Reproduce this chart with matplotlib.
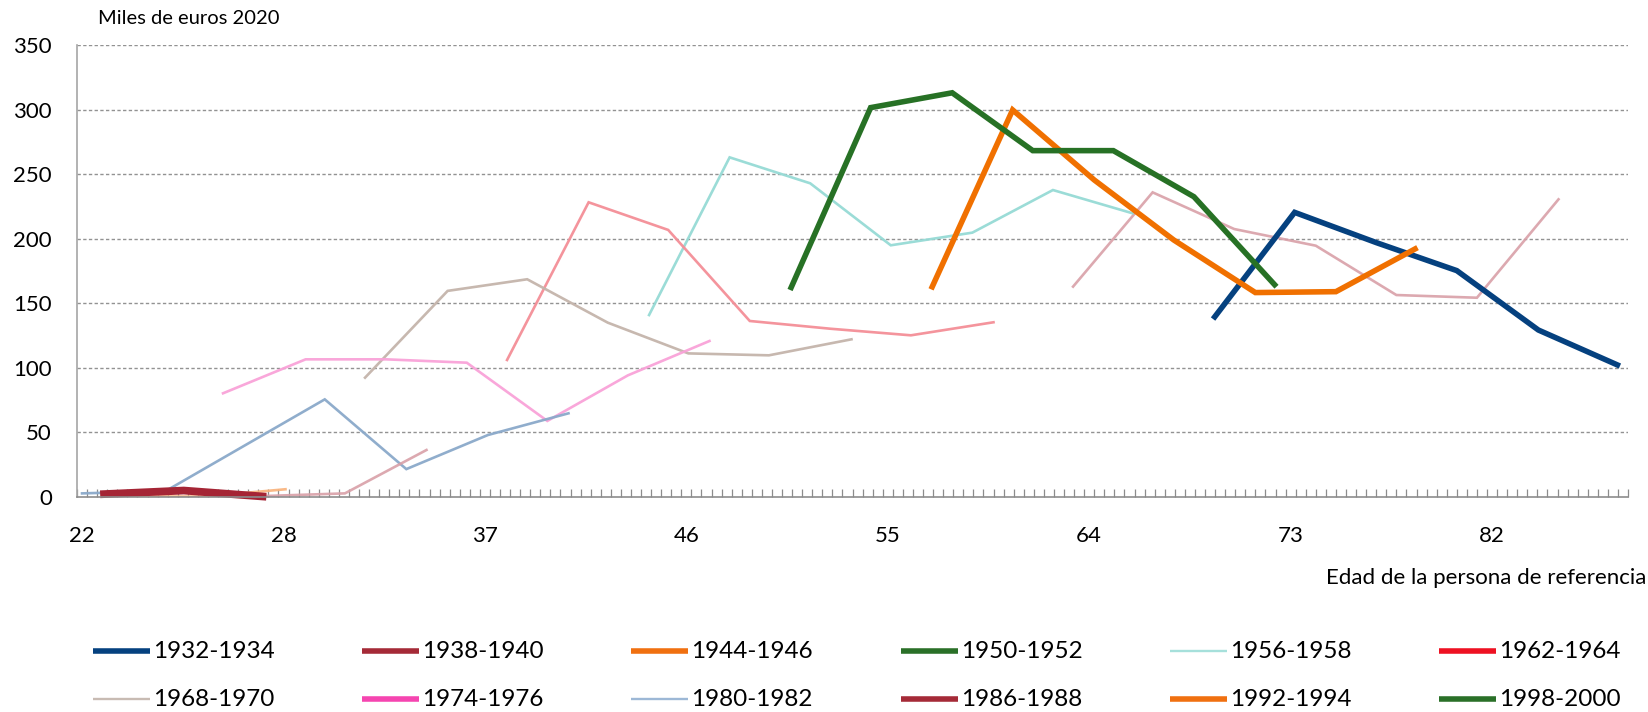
import matplotlib
matplotlib.use('Agg')
import matplotlib.pyplot as plt
from matplotlib.lines import Line2D
from matplotlib.ticker import FixedLocator, MultipleLocator

plt.rcParams['font.family'] = ['Lato', 'DejaVu Sans']

# ---------------- data ----------------
n_categories = 154                      # category slots on the x axis
age_labels = ['22', '28', '37', '46', '55', '64', '73', '82']
age_label_cat = [0.5, 20.5, 40.5, 60.5, 80.5, 100.5, 120.5, 140.5]
y_ticks = [0, 50, 100, 150, 200, 250, 300, 350]

# cohort lines (x = category position, y = miles de euros 2020)
x_1932 = [112.8, 120.9, 129.0, 137.0, 145.1, 153.2]
y_1932 = [137.8, 220.4, 197.0, 175.3, 129.3, 101.4]

x_1938 = [98.9, 106.8, 114.9, 123.0, 131.0, 139.0, 147.1]
y_1938 = [162.9, 235.9, 207.5, 194.6, 156.4, 154.3, 230.5]

x_1944 = [84.8, 92.9, 101.0, 108.9, 117.0, 125.0, 133.1]
y_1944 = [160.8, 299.7, 245.5, 199.0, 158.3, 159.0, 193.1]

x_1950 = [70.8, 78.8, 86.9, 94.9, 102.9, 110.9, 119.1]
y_1950 = [160.3, 301.5, 313.0, 268.2, 268.2, 232.5, 162.8]

x_1956 = [56.8, 64.8, 72.8, 80.8, 88.9, 96.9, 104.8]
y_1956 = [140.9, 263.0, 242.9, 194.9, 204.7, 237.7, 219.7]

x_1962 = [42.7, 50.8, 58.7, 66.8, 74.8, 82.8, 91.0]
y_1962 = [106.1, 228.2, 206.8, 136.3, 130.3, 125.2, 135.3]

x_1968 = [28.6, 36.8, 44.7, 52.7, 60.7, 68.7, 76.9]
y_1968 = [92.4, 159.6, 168.6, 135.0, 111.2, 109.7, 122.1]

x_1974 = [14.5, 22.7, 30.7, 38.7, 46.7, 54.7, 62.8]
y_1974 = [80.3, 106.6, 106.6, 104.0, 58.9, 94.2, 120.8]

x_1980 = [0.5, 8.8, 24.6, 32.7, 40.8, 48.8]
y_1980 = [2.8, 4.6, 75.6, 21.6, 48.0, 64.8]

x_1986 = [18.8, 26.6, 34.7]
y_1986 = [0.8, 2.8, 36.4]

x_1986b = [2.3, 10.6, 18.8]
y_1986b = [2.1, 5.0, 0.2]

x_1992 = [4.6, 12.6, 20.7]
y_1992 = [0.5, 0.3, 6.0]

legend_labels = ['1932-1934', '1938-1940', '1944-1946', '1950-1952', '1956-1958', '1962-1964',
                 '1968-1970', '1974-1976', '1980-1982', '1986-1988', '1992-1994', '1998-2000']
legend_colors = ['#05417F', '#A52A37', '#F07010', '#2A7028', '#A6E0DB', '#EE1122',
                 '#C8BBB3', '#F545B0', '#9DB8D6', '#A52A37', '#F07010', '#2A7028']
legend_thick = [True, True, True, True, False, True,
                False, True, False, True, True, True]

# ---------------- figure ----------------
W, H = 1649, 712
fig = plt.figure(figsize=(W / 100, H / 100), dpi=100)

def fx(px):
    return px / W

def fy(py):
    return 1 - py / H

ax = fig.add_axes([fx(77), fy(497), fx(1628) - fx(77), fy(45) - fy(497)])

THIN = 1.9
THICK = 4.0

# thin (lighter) lines first
ax.plot(x_1938, y_1938, color='#D9A0A8', lw=THIN, alpha=0.9, solid_joinstyle='miter')
ax.plot(x_1956, y_1956, color='#96DAD5', lw=THIN, alpha=0.95, solid_joinstyle='miter')
ax.plot(x_1962, y_1962, color='#F48E97', lw=THIN, alpha=0.95, solid_joinstyle='miter')
ax.plot(x_1968, y_1968, color='#C4B4AB', lw=THIN, alpha=0.95, solid_joinstyle='miter')
ax.plot(x_1974, y_1974, color='#F9A2D8', lw=THIN, alpha=0.95, solid_joinstyle='miter')
ax.plot(x_1980, y_1980, color='#8AA9CA', lw=THIN, alpha=0.95, solid_joinstyle='miter')
ax.plot(x_1986, y_1986, color='#D9A0A8', lw=THIN, alpha=0.9, solid_joinstyle='miter')
ax.plot(x_1992, y_1992, color='#F9B27A', lw=THIN, alpha=0.9, solid_joinstyle='miter')

# thick lines
ax.plot(x_1932, y_1932, color='#05417F', lw=THICK, solid_joinstyle='miter', solid_capstyle='butt')
ax.plot(x_1944, y_1944, color='#F07000', lw=THICK, solid_joinstyle='miter', solid_capstyle='butt')
ax.plot(x_1950, y_1950, color='#277125', lw=THICK, solid_joinstyle='miter', solid_capstyle='butt')
ax.plot(x_1986b, y_1986b, color='#A52535', lw=5.6, solid_joinstyle='miter', solid_capstyle='butt',
        clip_on=False)

ax.set_xlim(0, n_categories)
ax.set_ylim(0, 350)

# grid
for v in y_ticks[1:]:
    ax.axhline(v, color='#929292', lw=1.0, linestyle=(0, (2.4, 1.7)), zorder=0)

# spines
for s in ['top', 'right']:
    ax.spines[s].set_visible(False)
ax.spines['left'].set_color('#A6A6A6')
ax.spines['left'].set_linewidth(1.2)
ax.spines['bottom'].set_color('#8C8C8C')
ax.spines['bottom'].set_linewidth(1.2)

# ticks
ax.yaxis.set_major_locator(FixedLocator(y_ticks))
ax.set_yticklabels([str(v) for v in y_ticks])
ax.tick_params(axis='y', length=0, pad=18, labelsize=16, colors='black')

ax.xaxis.set_major_locator(FixedLocator(age_label_cat))
ax.set_xticklabels(age_labels)
ax.xaxis.set_minor_locator(MultipleLocator(1))
ax.tick_params(axis='x', which='major', length=0, pad=21, labelsize=16)
ax.tick_params(axis='x', which='minor', direction='in', length=5.5, width=0.9, color='#8C8C8C')

# titles
fig.text(fx(98), fy(19), 'Miles de euros 2020', fontsize=14.5, ha='left', va='center')
fig.text(fx(1646), fy(578), 'Edad de la persona de referencia', fontsize=16, ha='right', va='center')

# legend (manual, 2 rows x 6 cols)
col_w = 269.2
row_y = [651, 699]
for i, (lab, col, thick) in enumerate(zip(legend_labels, legend_colors, legend_thick)):
    r, c = divmod(i, 6)
    x0 = 93 + col_w * c
    fig.add_artist(Line2D([fx(x0), fx(x0 + 57)], [fy(row_y[r]), fy(row_y[r])],
                          transform=fig.transFigure, color=col,
                          lw=4.0 if thick else 1.7, solid_capstyle='butt'))
    fig.text(fx(x0 + 60), fy(row_y[r]), lab, fontsize=17.5, ha='left', va='center')

fig.savefig('out.png', dpi=100)
